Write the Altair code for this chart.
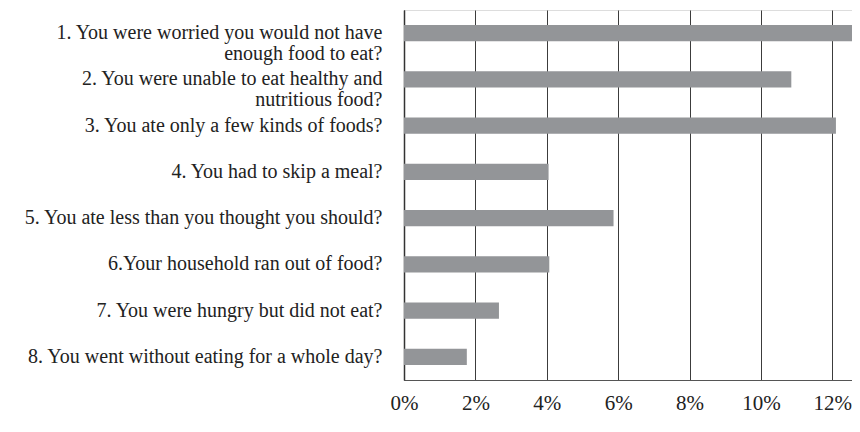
import altair as alt
import pandas as pd

questions = [
    "1. You were worried you would not have\nenough food to eat?",
    "2. You were unable to eat healthy and\nnutritious food?",
    "3. You ate only a few kinds of foods?",
    "4. You had to skip a meal?",
    "5.  You ate less than you thought you should?",
    "6.Your household ran out of food?",
    "7. You were hungry but did not eat?",
    "8. You went without eating for a whole day?",
]
percent = [12.9, 10.85, 12.1, 4.05, 5.87, 4.07, 2.66, 1.76]
tick_values = [0, 2, 4, 6, 8, 10, 12]

df = pd.DataFrame({"question": questions, "percent": percent})

FONT = "Liberation Serif, Times New Roman, serif"

chart = (
    alt.Chart(df)
    .mark_bar(color="#939598", clip=True)
    .encode(
        x=alt.X(
            "percent:Q",
            scale=alt.Scale(domain=[0, 12.55], nice=False, zero=True),
            axis=alt.Axis(
                values=tick_values,
                labelExpr="datum.value + '%'",
                title=None,
                grid=True,
                gridColor="#3c3c3c",
                gridWidth=1,
                ticks=False,
                tickSize=0,
                domainColor="#555555",
                domainWidth=1.2,
                labelFont=FONT,
                labelFontSize=21,
                labelColor="#222222",
                labelPadding=12,
                labelFlush=False,
            ),
        ),
        y=alt.Y(
            "question:N",
            sort=questions,
            scale=alt.Scale(paddingInner=0.65, paddingOuter=0.325),
            axis=alt.Axis(
                title=None,
                ticks=False,
                tickSize=0,
                grid=False,
                domainColor="#333333",
                domainWidth=1.5,
                labelExpr="split(datum.value, '\\n')",
                labelFont=FONT,
                labelFontSize=20,
                labelLineHeight=20.5,
                labelColor="#222222",
                labelPadding=22,
                labelLimit=0,
                labelAlign="right",
                labelBaseline="middle",
            ),
        ),
    )
    .properties(
        width=448,
        height=370,
        padding={"left": 396, "top": 2, "right": 0, "bottom": 36},
        autosize=alt.AutoSizeParams(type="none"),
    )
    .configure_view(stroke=None)
    .configure(background="white")
)

chart.save("out.html", embed_options={"renderer": "svg", "actions": False})
